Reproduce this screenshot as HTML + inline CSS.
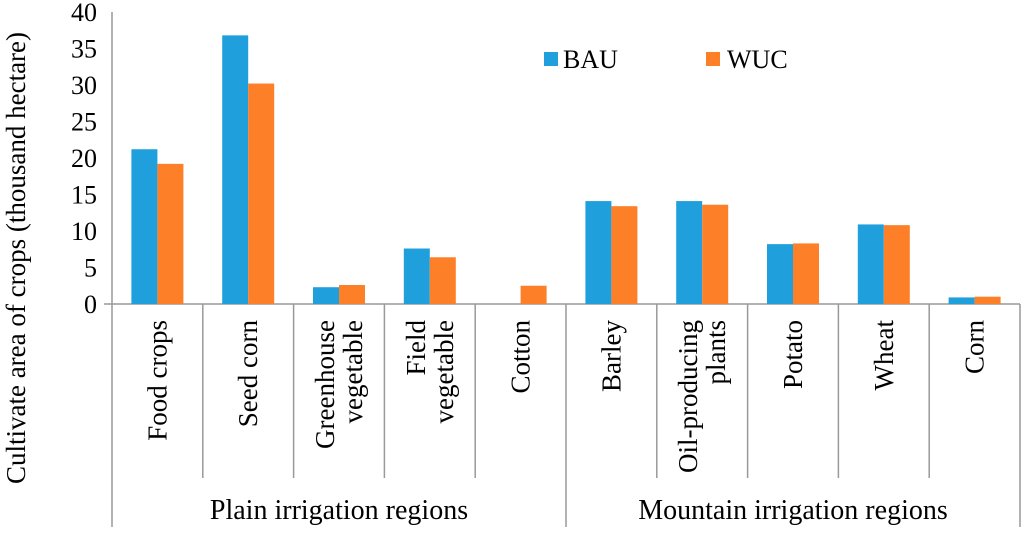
<!DOCTYPE html>
<html><head><meta charset="utf-8"><style>
body{margin:0;background:#fff}
svg text{font-family:"Liberation Serif",serif;fill:#000}
</style></head><body>
<svg id="chart" width="1024" height="535" xmlns="http://www.w3.org/2000/svg">
<g id="grid"></g><g id="bars"></g><g id="labels"></g>
<text transform="translate(25,258) rotate(-90)" text-anchor="middle" font-size="27">Cultivate area of crops (thousand  hectare)</text>
<g>
<rect x="544" y="52" width="14" height="14" fill="#1f9fdc"/>
<text x="563" y="68" font-size="26">BAU</text>
<rect x="706" y="52" width="14" height="14" fill="#fd7f27"/>
<text x="727" y="68" font-size="26">WUC</text>
</g>
</svg>
<script>
const categories=[["Food crops"],["Seed corn"],["Greenhouse","vegetable"],["Field","vegetable"],["Cotton"],["Barley"],["Oil-producing","plants"],["Potato"],["Wheat"],["Corn"]];
const bau=[21.2,36.8,2.3,7.6,0,14.1,14.1,8.2,10.9,0.9];
const wuc=[19.2,30.2,2.6,6.4,2.5,13.4,13.6,8.3,10.8,1.0];
const yTicks=[0,5,10,15,20,25,30,35,40];
const regions=["Plain irrigation regions","Mountain irrigation regions"];
const NS="http://www.w3.org/2000/svg";
const X0=112,X1=1020,Y0=304,Y40=12;
const cw=(X1-X0)/categories.length;
const y=v=>Y0-(v/40)*(Y0-Y40);
const x=i=>X0+i*cw;
function mk(t,a,p){const e=document.createElementNS(NS,t);for(const k in a)e.setAttribute(k,a[k]);p.appendChild(e);return e;}
const grid=document.getElementById('grid'),bars=document.getElementById('bars'),lab=document.getElementById('labels');
yTicks.forEach(v=>{
 const t=mk('text',{x:97,y:y(v)+9,'text-anchor':'end','font-size':26},lab);t.textContent=v;
 
 
});
const ax=mk('line',{x1:104,y1:Y0,x2:X1,y2:Y0,stroke:'#999','stroke-width':1.5},grid);


const yax=mk('line',{x1:X0,y1:Y40,x2:X0,y2:Y0,stroke:'#999','stroke-width':1.5},grid);


for(let i=0;i<=categories.length;i++){
 const big=(i%5===0);
 const l=mk('line',{x1:x(i),y1:Y0,x2:x(i),y2:big?527:478,stroke:'#999','stroke-width':1.5},grid);
 
 
}
categories.forEach((c,i)=>{
 const bw=26,cx=x(i)+cw/2;
 const b=mk('rect',{x:cx-bw,y:y(bau[i]),width:bw,height:Y0-y(bau[i]),fill:'#1f9fdc'},bars);
 
 
 const w=mk('rect',{x:cx,y:y(wuc[i]),width:bw,height:Y0-y(wuc[i]),fill:'#fd7f27'},bars);
 
 
 const n=c.length;
 c.forEach((line,j)=>{
  const lx=cx+9+(j-(n-1)/2)*28;
  const t=mk('text',{transform:`translate(${lx},320) rotate(-90)`,'text-anchor':'end','font-size':27},lab);
  t.textContent=line;
  
  
 });
});
regions.forEach((r,k)=>{
 const t=mk('text',{x:x(k*5)+cw*2.5,y:519,'text-anchor':'middle','font-size':28},lab);
 t.textContent=r;
 
 
});
</script>
</body></html>
